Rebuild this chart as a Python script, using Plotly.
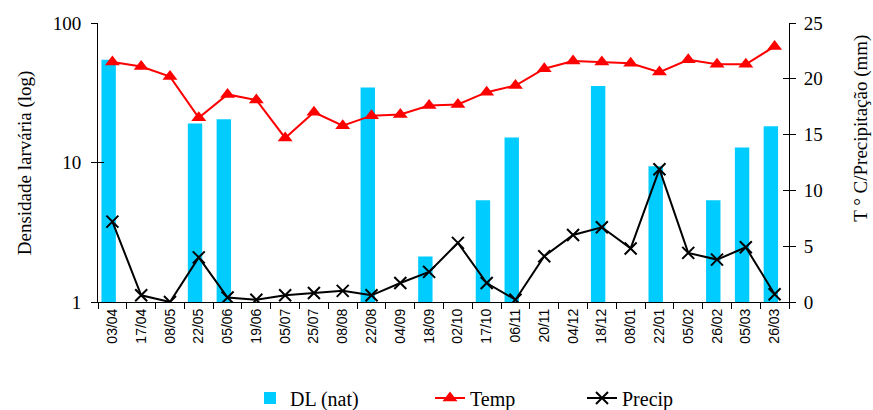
import plotly.graph_objects as go

dates = ["03/04", "17/04", "08/05", "22/05", "05/06", "19/06", "05/07", "25/07",
         "08/08", "22/08", "04/09", "18/09", "02/10", "17/10", "06/11", "20/11",
         "04/12", "18/12", "08/01", "22/01", "05/02", "26/02", "05/03", "26/03"]

dl_nat = [54.5, None, None, 19.0, 20.4, None, None, None,
          None, 34.5, None, 2.12, None, 5.36, 15.1, None,
          None, 35.4, None, 9.4, None, 5.36, 12.8, 18.2]

temp = [21.5, 21.1, 20.2, 16.5, 18.6, 18.1, 14.7, 17.0,
        15.8, 16.7, 16.8, 17.6, 17.7, 18.8, 19.4, 20.9,
        21.6, 21.5, 21.4, 20.6, 21.7, 21.3, 21.3, 22.9]

precip = [7.2, 0.6, 0.0, 4.0, 0.4, 0.2, 0.6, 0.8,
          1.0, 0.6, 1.7, 2.7, 5.3, 1.7, 0.2, 4.1,
          6.0, 6.7, 4.8, 11.9, 4.4, 3.8, 4.9, 0.7]

left_ticks = [1, 10, 100]
right_range = [0, 25]

serif = "Liberation Serif, Times New Roman, serif"
W, H = 873, 410

fig = go.Figure()
fig.add_trace(go.Bar(x=dates, y=dl_nat, name="DL (nat)", marker=dict(color="#00CCFF", line=dict(width=0)),
                     width=0.5, offset=-0.38, yaxis="y", legend="legend"))
fig.add_trace(go.Scatter(x=dates, y=temp, name="Temp", mode="lines+markers", yaxis="y2", legend="legend2",
                         line=dict(color="#FF0000", width=2),
                         marker=dict(symbol="triangle-up", size=13, color="#FF0000")))
fig.add_trace(go.Scatter(x=dates, y=precip, name="Precip", mode="lines+markers", yaxis="y2", legend="legend3",
                         line=dict(color="black", width=2),
                         marker=dict(symbol="x-thin", size=12, color="black", line=dict(width=2, color="black"))))
# empty helper traces so the inner tick-mark axes (crossing ticks) get drawn
fig.add_trace(go.Scatter(x=[], y=[], yaxis="y3", showlegend=False, hoverinfo="skip"))
fig.add_trace(go.Scatter(x=[], y=[], yaxis="y4", showlegend=False, hoverinfo="skip"))

leg_common = dict(xref="container", yref="container", xanchor="left", yanchor="middle",
                  y=(H - 398) / H, font=dict(family=serif, size=20, color="black"),
                  bgcolor="rgba(0,0,0,0)")

fig.update_layout(
    width=W, height=H,
    margin=dict(l=98, r=84, t=23, b=108, autoexpand=False),
    paper_bgcolor="white", plot_bgcolor="white",
    showlegend=True,
    legend=dict(x=250 / W, **leg_common),
    legend2=dict(x=430 / W, **leg_common),
    legend3=dict(x=582 / W, **leg_common),
    xaxis=dict(type="category", showline=True, linecolor="black", linewidth=1,
               ticks="outside", ticklen=6, tickcolor="black", tickson="boundaries",
               tickangle=-90, tickfont=dict(family="Liberation Sans, Arial, sans-serif", size=14, color="black"),
               showgrid=False, range=[-0.5, 23.5], automargin=False),
    yaxis=dict(type="log", range=[0, 2], tickvals=left_ticks, ticktext=[str(v) for v in left_ticks],
               showline=True, linecolor="black", linewidth=1, ticks="outside", ticklen=6,
               tickcolor="black", showgrid=False, zeroline=False, automargin=False,
               ticklabelstandoff=6,
               tickfont=dict(family=serif, size=19, color="black")),
    yaxis2=dict(overlaying="y", side="right", range=right_range, dtick=5,
                showline=True, linecolor="black", linewidth=1, ticks="outside", ticklen=6,
                tickcolor="black", showgrid=False, zeroline=False, automargin=False,
                ticklabelstandoff=4,
                tickfont=dict(family=serif, size=19, color="black")),
    yaxis3=dict(overlaying="y", side="left", type="log", range=[0, 2], tickvals=left_ticks,
                ticks="inside", ticklen=6, tickcolor="black", showticklabels=False,
                showgrid=False, zeroline=False, showline=False, automargin=False),
    yaxis4=dict(overlaying="y", side="right", range=right_range, dtick=5,
                ticks="inside", ticklen=6, tickcolor="black", showticklabels=False,
                showgrid=False, zeroline=False, showline=False, automargin=False),
    annotations=[
        dict(text="Densidade larvária (log)", xref="paper", yref="paper", x=-0.106, y=0.5,
             textangle=-90, showarrow=False, xanchor="center", yanchor="middle",
             font=dict(family=serif, size=19, color="black")),
        dict(text="T ° C/Precipitação (mm)", xref="paper", yref="paper", x=1.104, y=0.624,
             textangle=-90, showarrow=False, xanchor="center", yanchor="middle",
             font=dict(family=serif, size=19, color="black")),
    ],
)

fig.write_html("out.html", config={"displayModeBar": False},
               post_script="document.body.style.margin='0';document.body.style.overflow='hidden';")
